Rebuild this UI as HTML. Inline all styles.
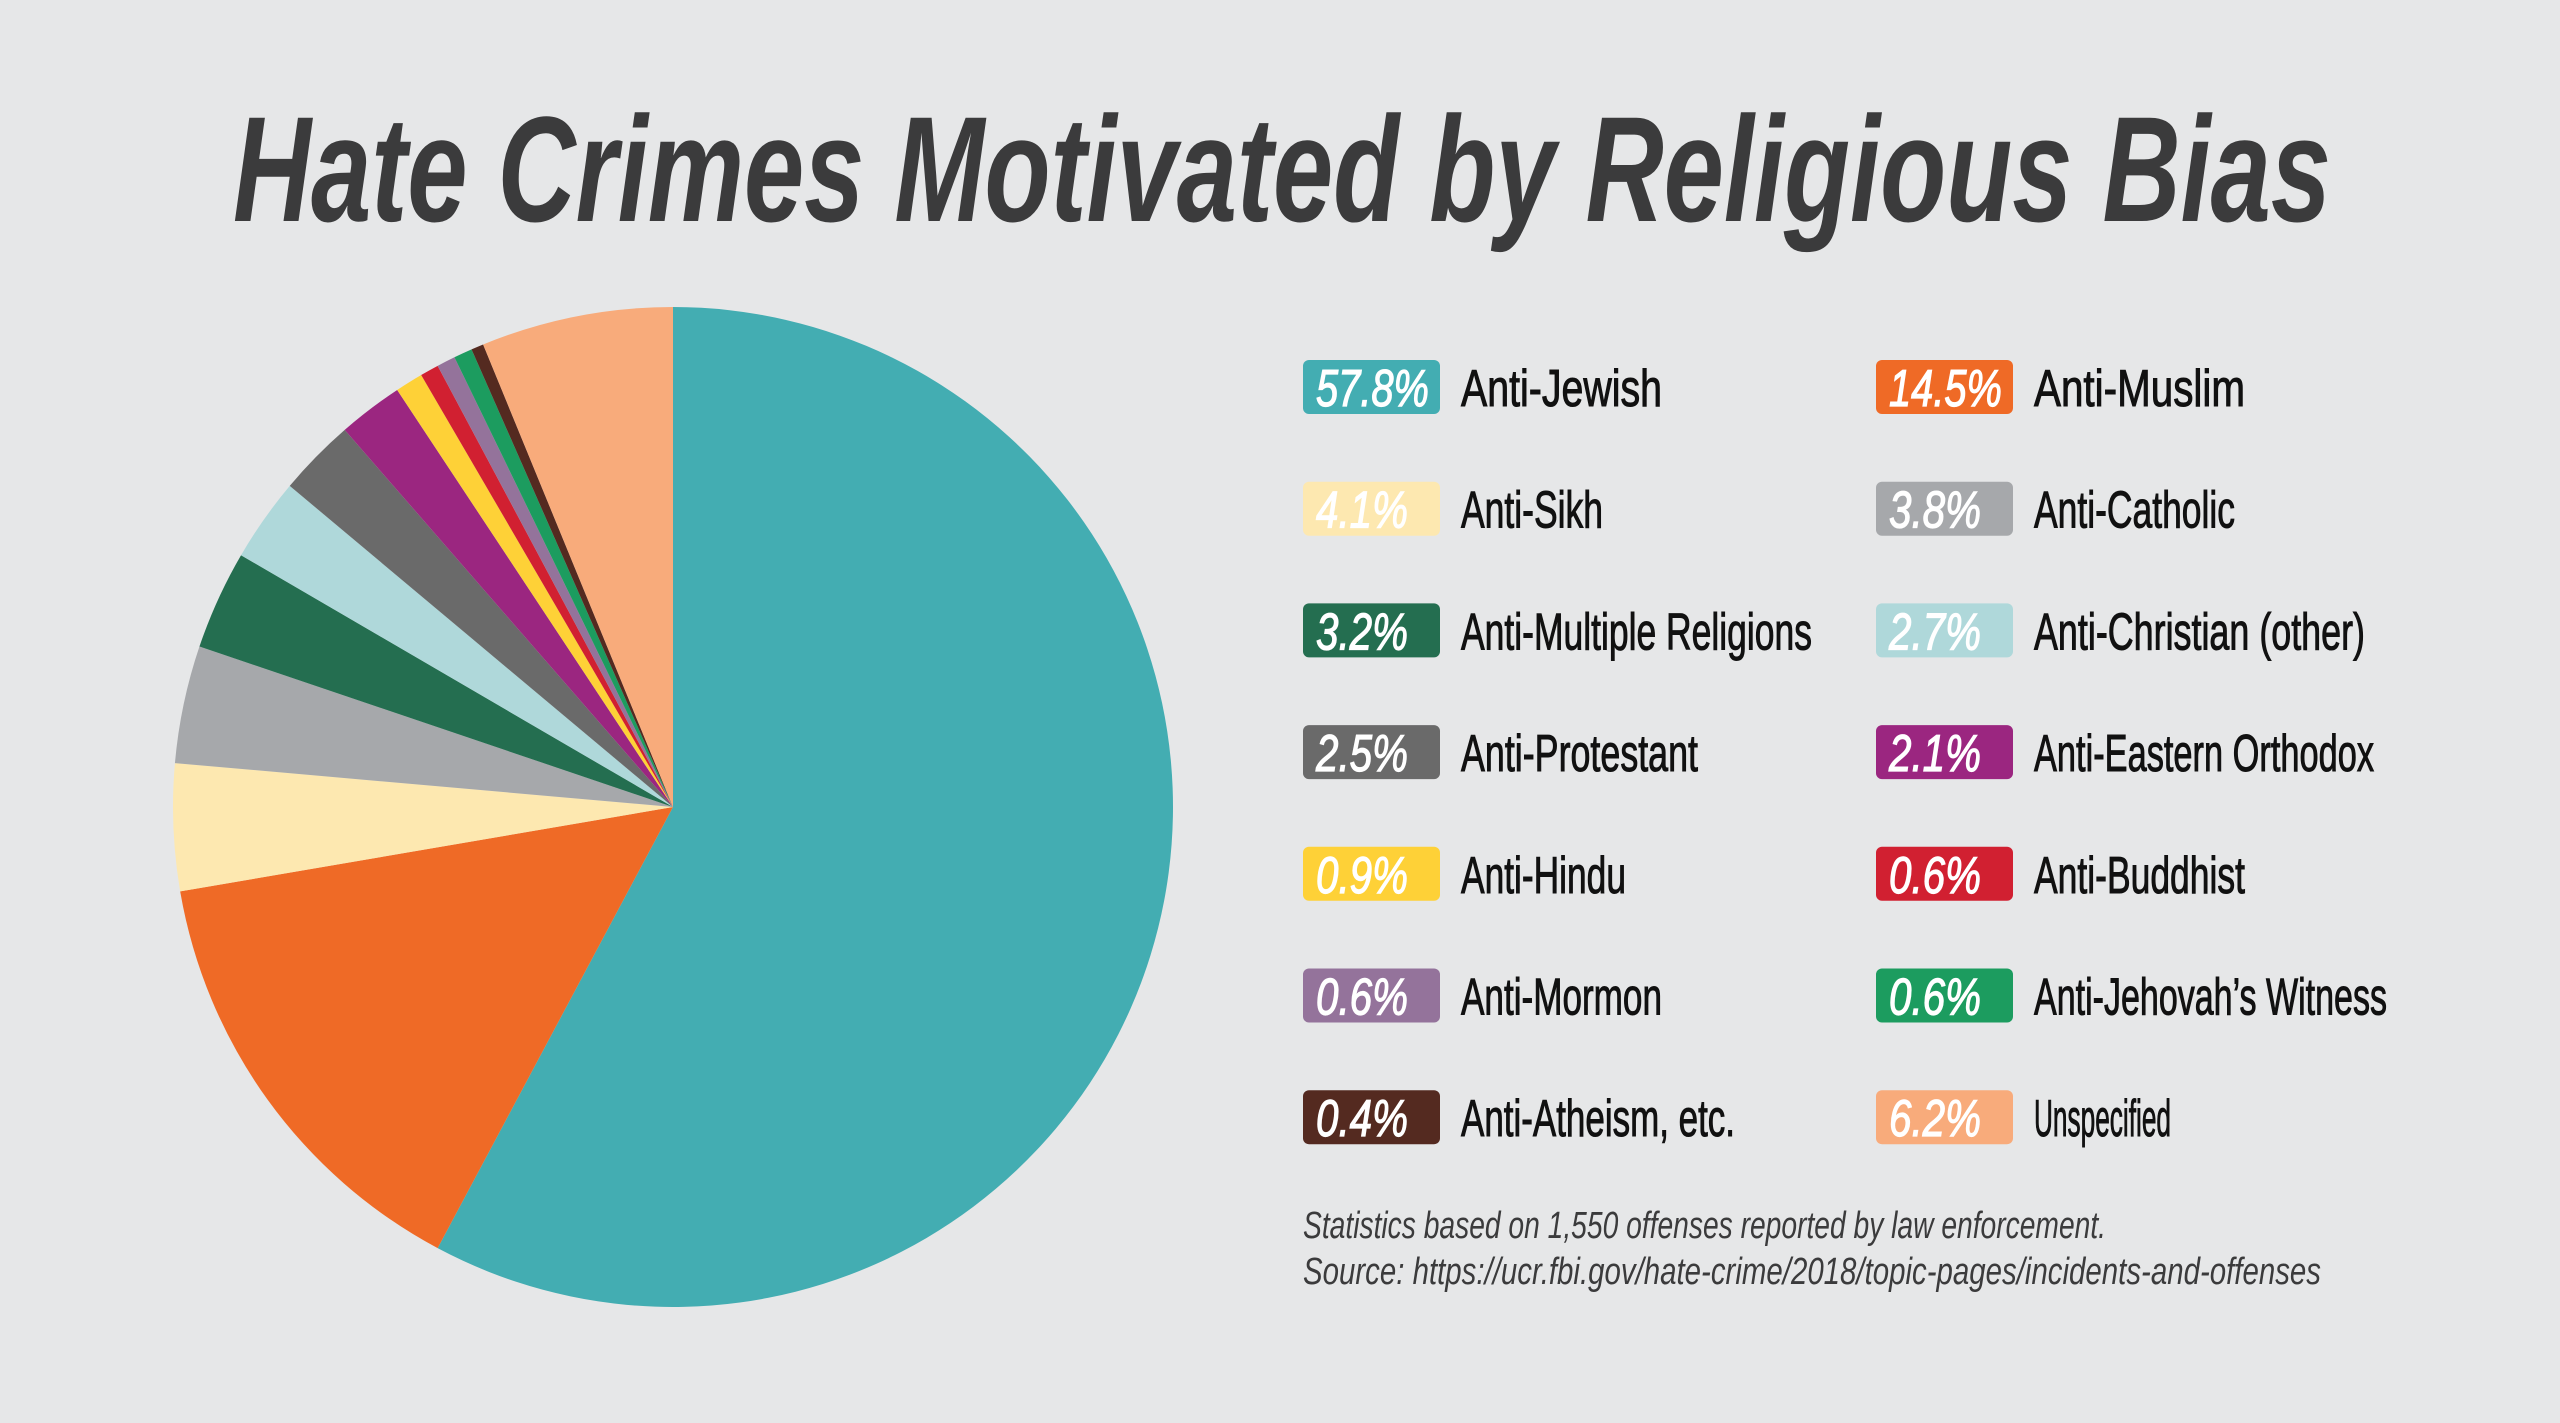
<!DOCTYPE html>
<html><head><meta charset="utf-8"><style>
html,body{margin:0;padding:0;background:#e6e7e8;}
svg{display:block}
text{font-family:"Liberation Sans Narrow","Liberation Sans",sans-serif;}
</style></head><body>
<svg id="s" width="2560" height="1423" viewBox="0 0 2560 1423" xmlns="http://www.w3.org/2000/svg">
<rect width="2560" height="1423" fill="#e6e7e8"/>
<text x="233" y="221" font-size="150" font-weight="bold" font-style="italic" fill="#3b3b3c" textLength="2098" lengthAdjust="spacingAndGlyphs">Hate Crimes Motivated by Religious Bias</text>
<g id="pie"></g>
<g id="leg"></g>
<text x="1303" y="1238" font-size="38" font-style="italic" fill="#3b3b3c" textLength="803" lengthAdjust="spacingAndGlyphs">Statistics based on 1,550 offenses reported by law enforcement.</text>
<text x="1303" y="1284" font-size="38" font-style="italic" fill="#3b3b3c" textLength="1018" lengthAdjust="spacingAndGlyphs">Source: https://ucr.fbi.gov/hate-crime/2018/topic-pages/incidents-and-offenses</text>
</svg>
<script>
var d=[
["57.8%","Anti-Jewish",57.8,"#43adb2",123,"#fff"],
["14.5%","Anti-Muslim",14.5,"#ef6a26",129,"#fff"],
["4.1%","Anti-Sikh",4.1,"#fde8b0",87,"#fff"],
["3.8%","Anti-Catholic",3.8,"#a6a8ab",123,"#fff"],
["3.2%","Anti-Multiple Religions",3.2,"#246e50",215,"#fff"],
["2.7%","Anti-Christian (other)",2.7,"#afd8da",203,"#fff"],
["2.5%","Anti-Protestant",2.5,"#6a6a6a",145,"#fff"],
["2.1%","Anti-Eastern Orthodox",2.1,"#9b2680",208,"#fff"],
["0.9%","Anti-Hindu",0.9,"#fed137",101,"#fff"],
["0.6%","Anti-Buddhist",0.6,"#d12031",129,"#fff"],
["0.6%","Anti-Mormon",0.6,"#94739b",123,"#fff"],
["0.6%","Anti-Jehovah\u2019s Witness",0.6,"#1c9c5f",216,"#fff"],
["0.4%","Anti-Atheism, etc.",0.4,"#542a20",168,"#fff"],
["6.2%","Unspecified",6.2,"#f8ab7b",84,"#fff"]];
var NS="http://www.w3.org/2000/svg",cx=673,cy=807,r=500,a=0,pie=document.getElementById("pie"),leg=document.getElementById("leg");
function pt(t){return [cx+r*Math.sin(t),cy-r*Math.cos(t)];}
d.forEach(function(e,i){
 var a2=a+e[2]/100*2*Math.PI,p1=pt(a),p2=pt(a2),lg=(a2-a)>Math.PI?1:0;
 var p=document.createElementNS(NS,"path");
 p.setAttribute("d","M"+cx+","+cy+"L"+p1[0]+","+p1[1]+"A"+r+","+r+" 0 "+lg+" 1 "+p2[0]+","+p2[1]+"Z");
 p.setAttribute("fill",e[3]);pie.appendChild(p);a=a2;
 var col=i%2,row=Math.floor(i/2),bx=col?1876:1303,ly=col?2034:1461,yc=387+row*121.7;
 var rc=document.createElementNS(NS,"rect");
 rc.setAttribute("x",bx);rc.setAttribute("y",yc-27);rc.setAttribute("width",137);rc.setAttribute("height",54);rc.setAttribute("rx",6);rc.setAttribute("fill",e[3]);leg.appendChild(rc);
 var t=document.createElementNS(NS,"text");
 t.setAttribute("x",bx+13);t.setAttribute("y",yc+19);t.setAttribute("font-size","52");t.setAttribute("font-style","italic");t.setAttribute("fill",e[5]);
 t.setAttribute("stroke",e[5]);t.setAttribute("stroke-width","1.2");
 t.setAttribute("textLength",e[0].length==5?113:92);t.setAttribute("lengthAdjust","spacingAndGlyphs");t.textContent=e[0];leg.appendChild(t);
 var l=document.createElementNS(NS,"text");
 l.setAttribute("x",ly);l.setAttribute("y",yc+19);l.setAttribute("font-size","52");l.setAttribute("fill","#111");
 l.setAttribute("stroke","#111");l.setAttribute("stroke-width","1");
 l.setAttribute("textLength",Math.round(e[4]*1.633));l.setAttribute("lengthAdjust","spacingAndGlyphs");l.textContent=e[1];leg.appendChild(l);
});
</script>
</body></html>
